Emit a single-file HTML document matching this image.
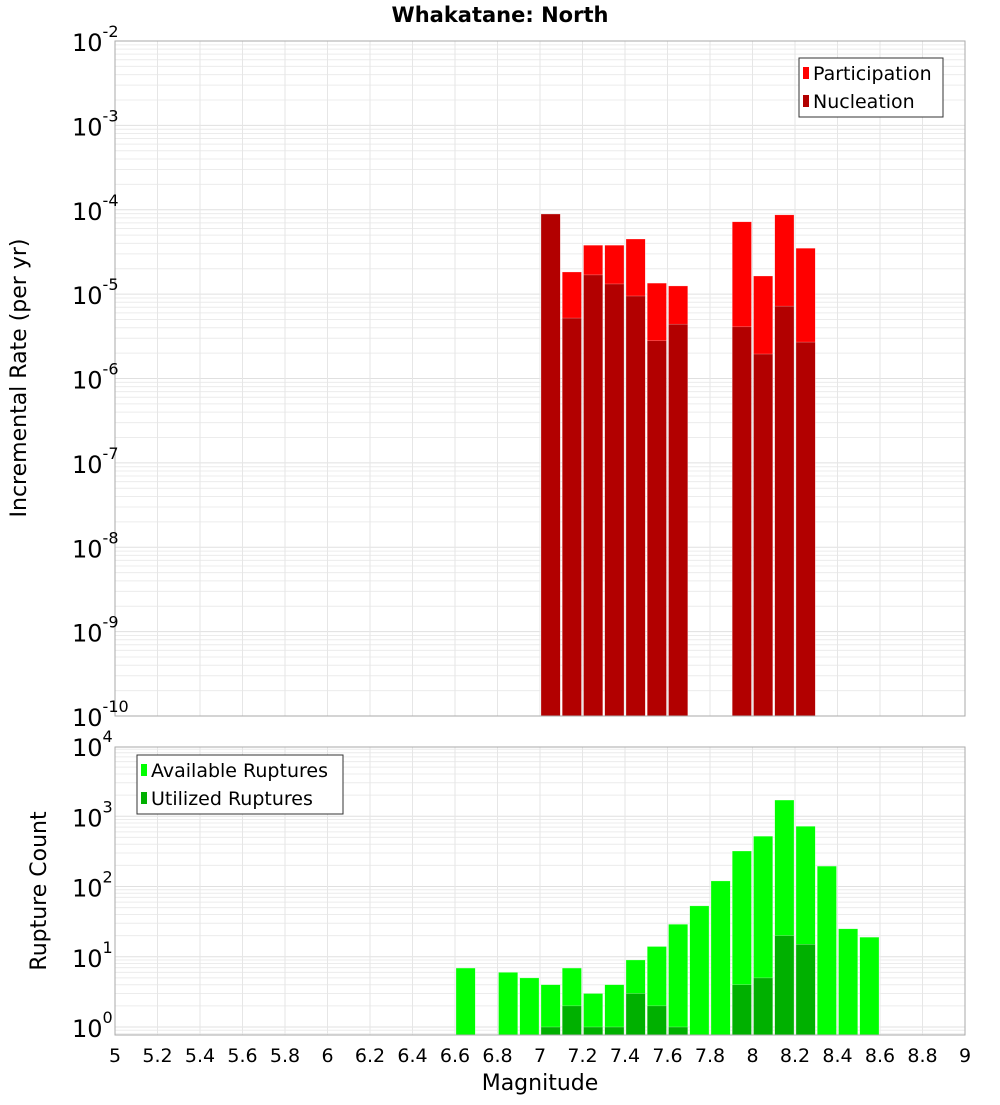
<!DOCTYPE html>
<html><head><meta charset="utf-8"><style>
body{margin:0;background:#fff;font-family:"Liberation Sans","DejaVu Sans",sans-serif}
svg text{font-family:"DejaVu Sans","Liberation Sans",sans-serif}
</style></head><body>
<svg id="c" width="1000" height="1100" xmlns="http://www.w3.org/2000/svg"></svg>
<script>
const rateBins=[7.0,7.1,7.2,7.3,7.4,7.5,7.6,7.9,8.0,8.1,8.2];
const participation=[8.9e-5,1.83e-5,3.8e-5,3.8e-5,4.5e-5,1.35e-5,1.25e-5,7.2e-5,1.64e-5,8.7e-5,3.5e-5];
const nucleation=[8.9e-5,5.2e-6,1.69e-5,1.32e-5,9.5e-6,2.8e-6,4.4e-6,4.1e-6,1.95e-6,7.2e-6,2.7e-6];
const countBins=[6.6,6.8,6.9,7.0,7.1,7.2,7.3,7.4,7.5,7.6,7.7,7.8,7.9,8.0,8.1,8.2,8.3,8.4,8.5];
const available=[6.9,6,5,4,6.9,3,4,9,14,29,53,120,320,520,1700,720,195,25,19];
const utilBins=[7.0,7.1,7.2,7.3,7.4,7.5,7.6,7.9,8.0,8.1,8.2];
const utilized=[1,2,1,1,3,2,1,4,5,20,15];
const xTicks=["5","5.2","5.4","5.6","5.8","6","6.2","6.4","6.6","6.8","7","7.2","7.4","7.6","7.8","8","8.2","8.4","8.6","8.8","9"];
const topDecades=[-2,-3,-4,-5,-6,-7,-8,-9,-10];
const botDecades=[4,3,2,1,0];

const NS="http://www.w3.org/2000/svg";
const svg=document.getElementById('c');
function el(t,a,p){const e=document.createElementNS(NS,t);for(const k in a)e.setAttribute(k,a[k]);(p||svg).appendChild(e);return e;}
const X0=115,X1=965;
const x=m=>X0+(m-5)/4*(X1-X0);
const T0=41,T1=716;
const yTop=v=>T0+(-2-Math.log10(v))*(T1-T0)/8;
const B0=747,B1=1035,BPD=70.25,B10=1027;
const yBot=v=>B10-Math.log10(v)*BPD;

function grid(top,bot,yf,dmin,dmax,name){
  const g=el('g',{});
  
  
  for(let d=dmin;d<dmax;d++)for(let k=1;k<10;k++){const y=yf(k*Math.pow(10,d));if(y<top-0.5||y>bot+0.5)continue;el('line',{x1:X0,x2:X1,y1:y,y2:y,stroke:k==1?'#e0e0e0':'#ececec','stroke-width':1},g);}
  for(let i=0;i<=20;i++){const xx=x(5+i*0.2);el('line',{x1:xx,x2:xx,y1:top,y2:bot,stroke:'#e6e6e6','stroke-width':1},g);}
}
grid(T0,T1,yTop,-10,-1,'top-grid');
grid(B0,B1,yBot,-1,4,'bottom-grid');

function bars(bins,vals,yf,base,color,name){
  bins.forEach((m,i)=>{const y=yf(vals[i]);const r=el('rect',{x:x(m)+1,y:y,width:x(m+0.1)-x(m)-2,height:base-y,fill:color,stroke:'rgba(255,255,255,0.5)','stroke-width':0.5});
  
  });
}
bars(rateBins,participation,yTop,T1,'#ff0000','participation-bar');
bars(rateBins,nucleation,yTop,T1,'#b20000','nucleation-bar');
bars(countBins,available,yBot,B1,'#00ff00','available-bar');
bars(utilBins,utilized,yBot,B1,'#00b000','utilized-bar');

// frames
const f1=el('rect',{x:X0,y:T0,width:X1-X0,height:T1-T0,fill:'none',stroke:'#aaa'});

const f2=el('rect',{x:X0,y:B0,width:X1-X0,height:B1-B0,fill:'none',stroke:'#aaa'});


// y tick labels
function ylab(yy,d,name){const t=el('text',{x:72,y:yy+10,'font-size':24,fill:'#000'});
 
 t.textContent='10';const s=el('tspan',{dy:-14,'font-size':16},t);s.textContent=String(d);}
topDecades.forEach(d=>ylab(yTop(Math.pow(10,d)),d,'top-y-tick-label'));
botDecades.forEach(d=>ylab(yBot(Math.pow(10,d)),d,'bottom-y-tick-label'));

// x tick labels
xTicks.forEach(s=>{const t=el('text',{x:x(parseFloat(s)),y:1062,'font-size':19,'text-anchor':'middle',fill:'#000'});
 t.textContent=s;});

function txt(s,a,name){const t=el('text',a);t.textContent=s;return t;}
txt('Whakatane: North',{x:500,y:22,'font-size':21,'font-weight':'bold','text-anchor':'middle'},'chart-title');
txt('Magnitude',{x:540,y:1090,'font-size':22,'text-anchor':'middle'},'x-axis-title');
txt('Incremental Rate (per yr)',{x:0,y:0,'font-size':22,'text-anchor':'middle',transform:'translate(26,378) rotate(-90)'},'top-y-axis-title');
txt('Rupture Count',{x:0,y:0,'font-size':22,'text-anchor':'middle',transform:'translate(46,891) rotate(-90)'},'bottom-y-axis-title');

// legends
function legend(x0,y0,w,h,items,name){const g=el('g',{});
 el('rect',{x:x0,y:y0,width:w,height:h,fill:'#fff',stroke:'#333'},g);
 items.forEach((it,i)=>{const yy=y0+15+i*28;el('rect',{x:x0+4,y:yy-6,width:6,height:12,fill:it[1]},g);
  const t=el('text',{x:x0+14,y:yy+7,'font-size':19},g);t.textContent=it[0];});}
legend(799,58,144,59,[['Participation','#ff0000'],['Nucleation','#b20000']],'top-legend');
legend(137,755,206,59,[['Available Ruptures','#00ff00'],['Utilized Ruptures','#00b000']],'bottom-legend');
</script>
</body></html>
